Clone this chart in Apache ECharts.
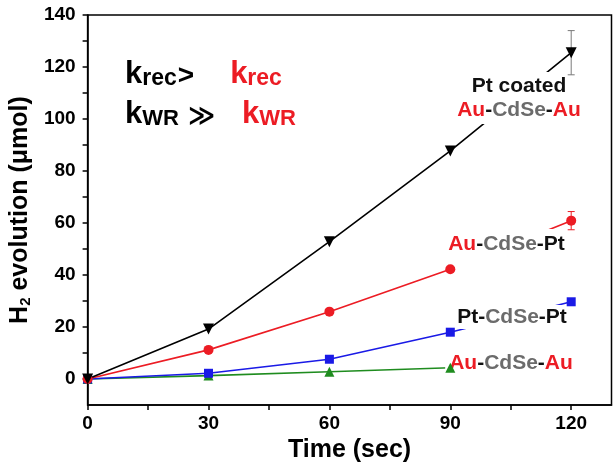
<!DOCTYPE html>
<html>
<head>
<meta charset="utf-8">
<script src="https://cdn.jsdelivr.net/npm/echarts@6/dist/echarts.min.js"></script>
<style>
  html, body { margin: 0; padding: 0; background: #fff; }
  #chart { width: 614px; height: 474px; }
</style>
</head>
<body>
<div id="chart"></div>
<script>
// Photocatalytic H2 evolution over time for four nanorod types
const timeSec = [0, 30, 60, 90, 120];
const ptCoatedAuCdSeAu = [0, 19.2, 52.8, 87.7, 125.5];
const auCdSePt = [0, 11.2, 25.9, 42.2, 60.9];
const ptCdSePt = [0, 2.2, 7.6, 18.0, 29.7];
const auCdSeAu = [0, 1.3, 2.8, 4.3];

// error-bar half widths at the last time point
const errPtCoated = 8.5;
const errAuPt = 3.5;
const errPtPt = 1.2;

const yMajorTicks = [0, 20, 40, 60, 80, 100, 120, 140];
const yMinorTicks = [10, 30, 50, 70, 90, 110, 130];
const xMajorTicks = [0, 30, 60, 90, 120];
const xMinorTicks = [15, 45, 75, 105];

const X_MIN = 0, X_MAX = 130, Y_MIN = -10, Y_MAX = 140;

const FONT = 'Arial, "Liberation Sans", "DejaVu Sans", sans-serif';
const RED = '#ec1c24';
const BLUE = '#1a1ae6';
const GREEN = '#1f8c1f';
const GRAY = '#6b6b6b';
const INK = '#111111';

const chart = echarts.init(document.getElementById('chart'), null, { renderer: 'canvas' });

function pairs(xs, ys) {
  return ys.map((v, i) => [xs[i], v]);
}

function allTicks(major, minor) {
  return major.concat(minor).sort((a, b) => a - b);
}

function errorSeries(x, y, e, color) {
  return {
    type: 'custom',
    z: 150,
    silent: true,
    data: [[x, y - e, y + e]],
    encode: { x: 0, y: [1, 2] },
    renderItem(params, api) {
      const lo = api.coord([api.value(0), api.value(1)]);
      const hi = api.coord([api.value(0), api.value(2)]);
      const w = 3.5;
      const st = { stroke: color, lineWidth: 1 };
      return {
        type: 'group',
        children: [
          { type: 'line', shape: { x1: lo[0], y1: lo[1], x2: hi[0], y2: hi[1] }, style: st },
          { type: 'line', shape: { x1: lo[0] - w, y1: lo[1], x2: lo[0] + w, y2: lo[1] }, style: st },
          { type: 'line', shape: { x1: hi[0] - w, y1: hi[1], x2: hi[0] + w, y2: hi[1] }, style: st }
        ]
      };
    }
  };
}

function lineSeries(name, data, color) {
  return {
    name,
    type: 'line',
    data: pairs(timeSec, data),
    symbol: 'none',
    z: 3,
    lineStyle: { color, width: 1.6 },
    emphasis: { disabled: true }
  };
}

// markers sit above the annotation boxes
function markerSeries(name, data, color, symbol, size, rotate) {
  return {
    name,
    type: 'scatter',
    data: pairs(timeSec, data),
    symbol,
    symbolSize: size,
    symbolRotate: rotate || 0,
    z: 200,
    itemStyle: { color, opacity: 1 },
    emphasis: { disabled: true }
  };
}

function tok(fill, size, lineHeight, extra) {
  return Object.assign({
    fill, fontFamily: FONT, fontWeight: 'bold', fontSize: size, lineHeight
  }, extra || {});
}

function labelRich(lh) {
  return { r: tok(RED, 21, lh), g: tok(GRAY, 21, lh), b: tok(INK, 21, lh) };
}

function seriesLabel(text, x, y, lh, padding) {
  return {
    type: 'text',
    x, y, z: 100,
    style: {
      text,
      rich: labelRich(lh),
      align: 'center', verticalAlign: 'middle',
      backgroundColor: '#ffffff',
      padding
    }
  };
}

const kRich = {
  k:  tok('#000', 31, 36, { verticalAlign: 'bottom' }),
  kr: tok(RED, 31, 36, { verticalAlign: 'bottom' }),
  s:  tok('#000', 23, 12, { verticalAlign: 'bottom' }),
  sr: tok(RED, 23, 12, { verticalAlign: 'bottom' }),
  w:  tok('#000', 22, 9, { verticalAlign: 'bottom' }),
  wr: tok(RED, 22, 9, { verticalAlign: 'bottom' }),
  o:  tok('#000', 28, 36, { verticalAlign: 'bottom', padding: [0, 36, 0, 1] }),
  oo: tok('#000', 26, 36, { verticalAlign: 'bottom', fontFamily: '"DejaVu Sans", sans-serif', padding: [0, 27, 0, 9] })
};

const option = {
  backgroundColor: '#ffffff',
  animation: false,
  grid: {
    left: 82, right: 2.5, top: 15, bottom: 69,
    show: true, borderColor: '#000', borderWidth: 1.5, backgroundColor: 'transparent'
  },
  xAxis: {
    type: 'value', min: X_MIN, max: X_MAX, position: 'bottom',
    name: 'Time (sec)', nameLocation: 'middle', nameGap: 33,
    nameTextStyle: { color: '#000', fontFamily: FONT, fontWeight: 'bold', fontSize: 25 },
    axisLine: { show: true, onZero: false, lineStyle: { color: '#000', width: 1.5 } },
    axisTick: { show: true, inside: false, length: 5, customValues: allTicks(xMajorTicks, xMinorTicks), lineStyle: { color: '#000', width: 1.5 } },
    axisLabel: { show: true, customValues: xMajorTicks, margin: 9, color: '#000', fontFamily: FONT, fontWeight: 'bold', fontSize: 19 },
    splitLine: { show: false }
  },
  yAxis: {
    type: 'value', min: Y_MIN, max: Y_MAX, position: 'left',
    name: '{a|H}{s|2}{a| evolution (μmol)}', nameLocation: 'middle', nameGap: 35, nameRotate: 90,
    nameTextStyle: {
      rich: {
        a: { color: '#000', fontFamily: FONT, fontWeight: 'bold', fontSize: 25, lineHeight: 30, verticalAlign: 'bottom' },
        s: { color: '#000', fontFamily: FONT, fontWeight: 'bold', fontSize: 15, lineHeight: 14, verticalAlign: 'bottom' }
      }
    },
    axisLine: { show: true, onZero: false, lineStyle: { color: '#000', width: 1.5 } },
    axisTick: { show: true, inside: false, length: 5, customValues: allTicks(yMajorTicks, yMinorTicks), lineStyle: { color: '#000', width: 1.5 } },
    axisLabel: { show: true, customValues: yMajorTicks, margin: 12, color: '#000', fontFamily: FONT, fontWeight: 'bold', fontSize: 19 },
    splitLine: { show: false }
  },
  series: [
    lineSeries('Au-CdSe-Au', auCdSeAu, GREEN),
    lineSeries('Pt-CdSe-Pt', ptCdSePt, BLUE),
    lineSeries('Au-CdSe-Pt', auCdSePt, RED),
    lineSeries('Pt coated Au-CdSe-Au', ptCoatedAuCdSeAu, '#000000'),
    errorSeries(timeSec[4], ptCoatedAuCdSeAu[4], errPtCoated, '#7a7a7a'),
    errorSeries(timeSec[4], auCdSePt[4], errAuPt, RED),
    errorSeries(timeSec[4], ptCdSePt[4], errPtPt, BLUE),
    markerSeries('Au-CdSe-Au', auCdSeAu, GREEN, 'triangle', 10),
    markerSeries('Pt-CdSe-Pt', ptCdSePt, BLUE, 'rect', 9),
    markerSeries('Au-CdSe-Pt', auCdSePt, RED, 'circle', 10),
    markerSeries('Pt coated Au-CdSe-Au', ptCoatedAuCdSeAu, '#000000', 'triangle', 11, 180)
  ],
  graphic: [
    seriesLabel('{b|Pt coated}\n{r|Au}{b|-}{g|CdSe}{b|-}{r|Au}', 519, 98, 24, [2, 3]),
    seriesLabel('{r|Au}{b|-}{g|CdSe}{b|-}{b|Pt}', 508, 249, 22, [4, 3, 14, 0]),
    seriesLabel('{b|Pt}{b|-}{g|CdSe}{b|-}{b|Pt}', 512, 317, 22, [1, 2]),
    seriesLabel('{r|Au}{b|-}{g|CdSe}{b|-}{r|Au}', 511, 363, 24, [2, 4]),
    {
      type: 'text', x: 125, y: 90, z: 100,
      style: { text: '{k|k}{s|rec}{o|>}{kr|k}{sr|rec}', rich: kRich, align: 'left', verticalAlign: 'bottom' }
    },
    {
      type: 'text', x: 125, y: 130, z: 100,
      style: { text: '{k|k}{w|WR}{oo|≫}{kr|k}{wr|WR}', rich: kRich, align: 'left', verticalAlign: 'bottom' }
    }
  ]
};

chart.setOption(option);
</script>
</body>
</html>
